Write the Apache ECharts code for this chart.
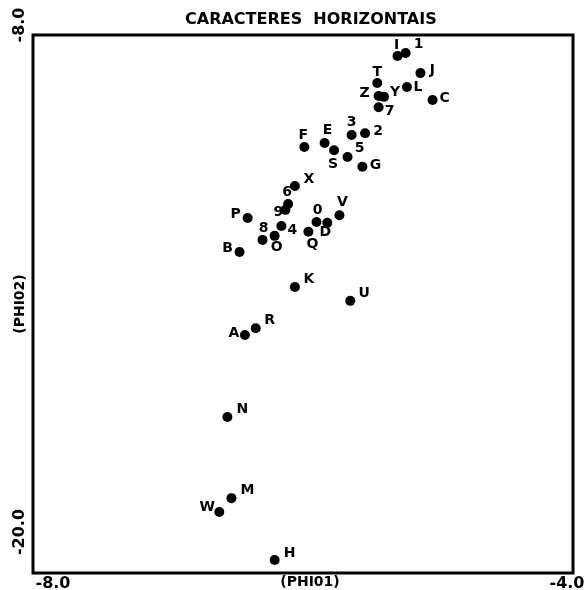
<!DOCTYPE html>
<html>
<head>
<meta charset="utf-8">
<script src="https://cdn.jsdelivr.net/npm/echarts@6/dist/echarts.min.js"></script>
<style>
html,body{margin:0;padding:0;background:#fff;}
#chart{width:588px;height:590px;}
</style>
</head>
<body>
<div id="chart"></div>
<script>
// ---- data ----
const pointNames = ['I','1','T','Z','Y','7','L','J','C','3','2','F','E','S','5','G','X','6','9','P','8','O','4','Q','0','D','V','B','K','U','A','R','N','M','W','H'];
const phi01 = [-5.30,-5.24,-5.45,-5.44,-5.40,-5.44,-5.23,-5.13,-5.04,-5.64,-5.54,-5.99,-5.84,-5.77,-5.67,-5.56,-6.06,-6.11,-6.13,-6.41,-6.30,-6.21,-6.16,-5.96,-5.90,-5.82,-5.73,-6.47,-6.06,-5.65,-6.43,-6.35,-6.56,-6.53,-6.62,-6.21];
const phi02 = [-8.47,-8.40,-9.07,-9.36,-9.38,-9.61,-9.16,-8.85,-9.45,-10.23,-10.19,-10.50,-10.41,-10.57,-10.72,-10.94,-11.37,-11.77,-11.90,-12.08,-12.57,-12.48,-12.26,-12.39,-12.17,-12.19,-12.02,-12.84,-13.62,-13.93,-14.69,-14.54,-16.52,-18.33,-18.64,-19.71];
const xTickLabels = ['-8.0','-4.0'];
const yTickLabels = ['-20.0','-8.0'];
const titleText = 'CARACTERES  HORIZONTAIS';
const xName = '(PHI01)';
const yName = '(PHI02)';

// ---- label placement (style) ----
const labelOffsets = {
  'I':[-1,-11],'1':[13,-9],'T':[0,-11],'Z':[-14,-3],'Y':[11,-5],'7':[11,4],'L':[11,0],'J':[12,-3],'C':[12,-2],
  '3':[0,-13],'2':[13,-2],'F':[-1,-12],'E':[3,-13],'S':[-1,14],'5':[12,-9],'G':[13,-1],'X':[14,-7],
  '6':[-1,-12],'9':[-7,3],'P':[-12,-4],'8':[1,-12],'O':[2,12],'4':[11,4],'Q':[4,13],'0':[1,-12],'D':[-2,10],'V':[3,-13],
  'B':[-12,-4],'K':[14,-8],'U':[14,-8],'A':[-11,-2],'R':[14,-8],'N':[15,-8],'M':[16,-8],'W':[-12,-5],'H':[15,-7]
};

const FONT = 'DejaVu Sans';
const SYM = 10;
const chart = echarts.init(document.getElementById('chart'));
const seriesData = pointNames.map((n, i) => {
  const o = labelOffsets[n] || [12, -6];
  return {
    name: n,
    value: [phi01[i], phi02[i]],
    label: { position: [SYM / 2 + o[0], SYM / 2 + o[1]], align: 'center', verticalAlign: 'middle' }
  };
});

chart.setOption({
  animation: false,
  backgroundColor: '#fff',
  title: {
    text: titleText,
    left: 180, top: 7,
    textStyle: { fontFamily: FONT, fontWeight: 'bold', fontSize: 16, color: '#000' }
  },
  grid: { left: 33, right: 15, top: 35, bottom: 17, containLabel: false, outerBoundsMode: 'none',
          show: true, borderColor: '#000', borderWidth: 3, backgroundColor: 'transparent' },
  xAxis: {
    type: 'value', min: -8, max: -4, interval: 4,
    axisLine: { show: false }, axisTick: { show: false }, splitLine: { show: false },
    axisLabel: {
      showMinLabel: true, showMaxLabel: true, margin: 3,
      formatter: v => v === -8 ? '{mn|' + xTickLabels[0] + '}' : (v === -4 ? '{mx|' + xTickLabels[1] + '}' : ''),
      rich: {
        mn: { fontFamily: FONT, fontWeight: 'bold', fontSize: 16, color: '#000', padding: [0, 0, 0, 40] },
        mx: { fontFamily: FONT, fontWeight: 'bold', fontSize: 16, color: '#000', padding: [0, 12, 0, 0] }
      }
    },
    name: xName, nameLocation: 'middle', nameGap: 2, nameMoveOverlap: false,
    nameTextStyle: { fontFamily: FONT, fontWeight: 'bold', fontSize: 14, color: '#000', padding: [0, 0, 0, 14] }
  },
  yAxis: {
    type: 'value', min: -20, max: -8, interval: 4,
    axisLine: { show: false }, axisTick: { show: false }, splitLine: { show: false },
    axisLabel: {
      rotate: 90, showMinLabel: true, showMaxLabel: true, margin: 5,
      formatter: v => v === -20 ? '{mn|' + yTickLabels[0] + '}' : (v === -8 ? '{mx|' + yTickLabels[1] + '}' : ''),
      rich: {
        mn: { fontFamily: FONT, fontWeight: 'bold', fontSize: 16, color: '#000', padding: [0, 0, 0, 82] },
        mx: { fontFamily: FONT, fontWeight: 'bold', fontSize: 16, color: '#000', padding: [0, 0, 0, 20] }
      }
    },
    name: yName, nameLocation: 'middle', nameGap: 6, nameRotate: 90, nameMoveOverlap: false,
    nameTextStyle: { fontFamily: FONT, fontWeight: 'bold', fontSize: 14, color: '#000' }
  },
  series: [{
    type: 'scatter',
    symbol: 'circle', symbolSize: SYM,
    itemStyle: { color: '#000', opacity: 1 },
    label: {
      show: true, formatter: '{b}',
      fontFamily: FONT, fontWeight: 'bold', fontSize: 14, color: '#000'
    },
    labelLayout: { hideOverlap: false },
    data: seriesData
  }]
});
</script>
</body>
</html>
